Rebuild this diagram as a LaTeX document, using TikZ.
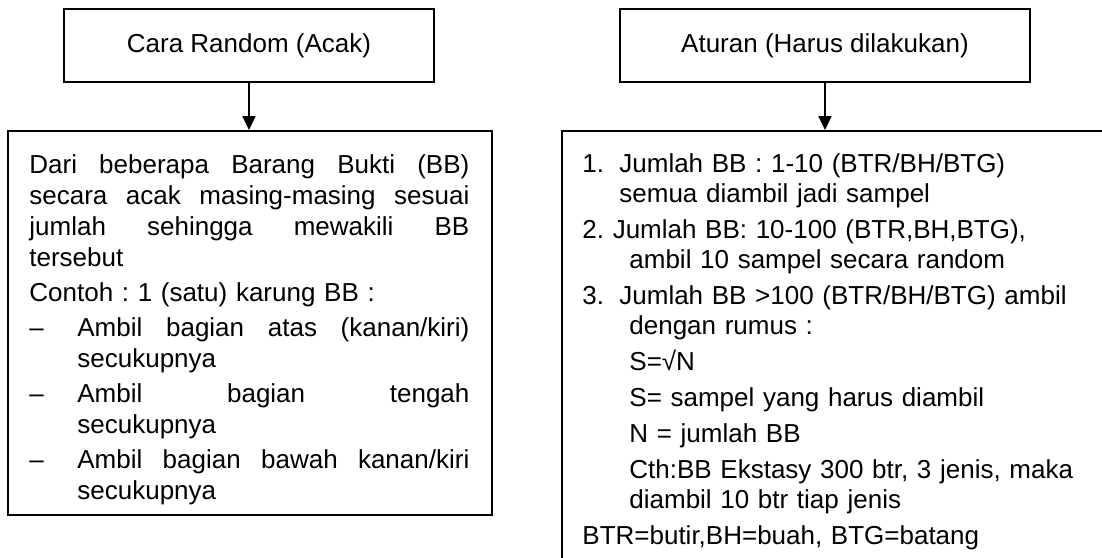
\documentclass[tikz,border=0pt]{standalone}
\usepackage{fontspec}
\setmainfont{Liberation Sans}
\usetikzlibrary{arrows.meta}
\frenchspacing
% baris rata kiri-kanan
\newcommand{\rata}[2]{\leavevmode\hbox to #1{\spaceskip=0.278em plus 1fil\relax #2}}

\tikzset{
	kotak/.style={draw, line width=1pt, inner sep=0pt},
	panah/.style={line width=1pt, -{Triangle[width=6.5pt,length=7pt]}},
	teks/.style={font=\fontsize{13pt}{15.5pt}\selectfont},
	isi/.style={anchor=base west, inner sep=0pt, align=left}
}

\begin{document}
\begin{tikzpicture}[x=0.5pt, y=-0.5pt]
			%%%%% START %%%%%
			\useasboundingbox (0, 0) rectangle (1102, 557);
			\clip (0, 0) rectangle (1102, 557);
			
			\node[kotak, teks, minimum width=185pt, minimum height=36.5pt] (acak) at (249, 45.5) {Cara Random (Acak)};
			\node[kotak, teks, minimum width=205pt, minimum height=36.5pt] (aturan) at (825, 45.5) {Aturan (Harus dilakukan)};
			
			\node[kotak, anchor=north west, minimum width=242pt, minimum height=192pt] (acakisi) at (7, 130) {};
			\node[kotak, anchor=north west, minimum width=300pt, minimum height=250pt] (aturanisi) at (561, 130) {};
			
			\draw[panah] (acak) -- (acak |- acakisi.north);
			\draw[panah] (aturan) -- (aturan |- aturanisi.north);
			
			\node[isi, font=\fontsize{13pt}{15.5pt}\selectfont, text width=220pt] (acakteks) at (29, 173) {%
				\rata{220pt}{Dari beberapa Barang Bukti (BB)}\\
				\rata{220pt}{secara acak masing-masing sesuai}\\
				\rata{220pt}{jumlah sehingga mewakili BB}\\
				tersebut\\[2pt]
				Contoh : 1 (satu) karung BB :\\[2pt]
				\makebox[24pt][l]{--}\rata{196pt}{Ambil bagian atas (kanan/kiri)}\\
				\hspace*{24pt}secukupnya\\[2pt]
				\makebox[24pt][l]{--}\rata{196pt}{Ambil bagian tengah}\\
				\hspace*{24pt}secukupnya\\[2pt]
				\makebox[24pt][l]{--}\rata{196pt}{Ambil bagian bawah kanan/kiri}\\
				\hspace*{24pt}secukupnya};
			
			\node[isi, font=\fontsize{13pt}{15pt}\selectfont, text width=255pt] (aturanteks) at (582, 172) {%
				\makebox[18.5pt][l]{1.}Jumlah BB : 1-10 (BTR/BH/BTG)\\
				\hspace*{18.5pt}semua diambil jadi sampel\\[3pt]
				2. Jumlah BB: 10-100 (BTR,BH,BTG),\\
				\hspace*{23.5pt}ambil 10 sampel secara random\\[3pt]
				\makebox[18.5pt][l]{3.}Jumlah BB >100 (BTR/BH/BTG) ambil\\
				\hspace*{23.5pt}dengan rumus :\\[3pt]
				\hspace*{23.5pt}S=√N\\[3pt]
				\hspace*{23.5pt}S= sampel yang harus diambil\\[3pt]
				\hspace*{23.5pt}N = jumlah BB\\[3pt]
				\hspace*{23.5pt}Cth:BB Ekstasy 300 btr, 3 jenis, maka\\
				\hspace*{23.5pt}diambil 10 btr tiap jenis\\[3pt]
				BTR=butir,BH=buah, BTG=batang};
			
			%%%%% END %%%%%
\end{tikzpicture}
\end{document}
